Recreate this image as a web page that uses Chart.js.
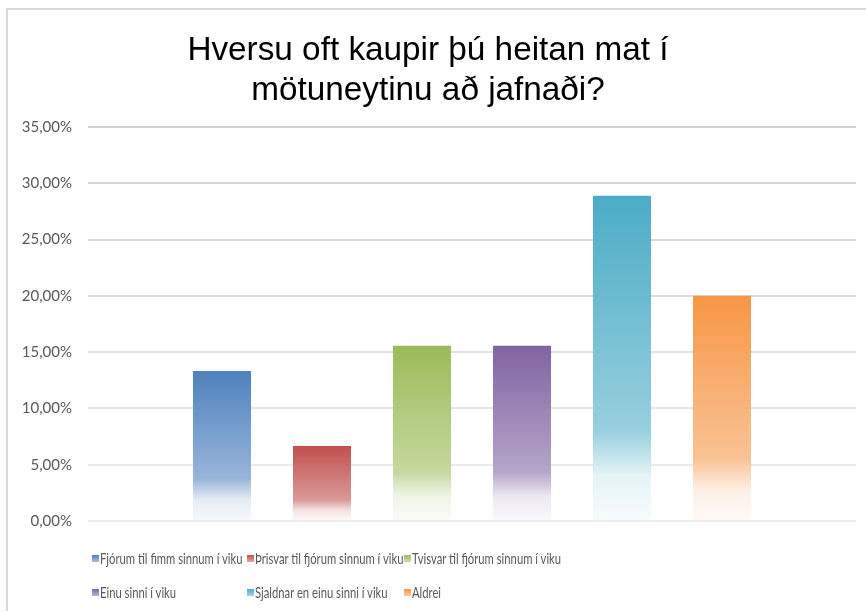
<!DOCTYPE html>
<html>
<head>
<meta charset="utf-8">
<script src="https://cdn.jsdelivr.net/npm/chart.js@4/dist/chart.umd.min.js"></script>
<style>
  body { margin: 0; background: #fff; }
  #wrap { position: relative; width: 866px; height: 611px; overflow: hidden; }
  #frame { position: absolute; left: 6px; top: 8px; right: -10px; bottom: -10px;
           border-top: 2px solid #d9d9d9; border-left: 2px solid #d9d9d9; }
  canvas { position: absolute; left: 0; top: 0; }
  #legend { position: absolute; left: 0; top: 0; width: 866px; height: 611px; pointer-events: none;
            font-family: Lato, "Open Sans", sans-serif; font-size: 15px; color: #595959; }
  .item { position: absolute; white-space: nowrap; line-height: 18px; }
  .box { position: absolute; left: 0; top: 6px; width: 7px; height: 7px; }
  .txt { position: absolute; left: 8px; top: 0; transform: scaleX(0.75); transform-origin: 0 50%; }
</style>
</head>
<body>
<div id="wrap">
  <div id="frame"></div>
  <canvas id="chart" width="866" height="611"></canvas>
  <div id="legend"></div>
</div>
<script>
const titleLines = ['Hversu oft kaupir þú heitan mat í', 'mötuneytinu að jafnaði?'];
const categories = [''];
const seriesNames = [
  'Fjórum til fimm sinnum í viku',
  'Þrisvar til fjórum sinnum í viku',
  'Tvisvar til fjórum sinnum í viku',
  'Einu sinni í viku',
  'Sjaldnar en einu sinni í viku',
  'Aldrei'
];
const seriesValues = [13.33, 6.67, 15.56, 15.56, 28.89, 20.00];
const seriesColors = ['#4F81BD', '#C0504D', '#9BBB59', '#8064A2', '#4BACC6', '#F79646'];
const yMax = 35;
const yStep = 5;

// mix a hex colour with white
const tint = (hex, t) => {
  const n = parseInt(hex.slice(1), 16);
  const r = (n >> 16) & 255, g = (n >> 8) & 255, b = n & 255;
  const m = c => Math.round(c + (255 - c) * t);
  return `rgb(${m(r)}, ${m(g)}, ${m(b)})`;
};

const barFill = (color) => (ctx) => {
  const chart = ctx.chart;
  const { chartArea, scales } = chart;
  if (!chartArea || ctx.raw === undefined) return color;
  const top = scales.y.getPixelForValue(ctx.raw);
  const base = scales.y.getPixelForValue(0);
  const g = chart.ctx.createLinearGradient(0, top, 0, base);
  g.addColorStop(0, color);
  g.addColorStop(0.72, tint(color, 0.42));
  g.addColorStop(0.86, tint(color, 0.85));
  g.addColorStop(1, tint(color, 0.96));
  return g;
};

const datasets = seriesNames.map((name, i) => ({
  label: name,
  data: [seriesValues[i]],
  backgroundColor: barFill(seriesColors[i]),
  borderWidth: 0,
  categoryPercentage: 0.78125,
  barPercentage: 0.58
}));

new Chart(document.getElementById('chart'), {
  type: 'bar',
  data: { labels: categories, datasets },
  options: {
    responsive: false,
    animation: false,
    layout: { padding: { top: 31, right: 10, bottom: 82, left: 0 } },
    plugins: {
      legend: { display: false },
      tooltip: { enabled: false },
      title: {
        display: true,
        text: titleLines,
        color: '#000',
        font: { family: '"Liberation Sans", Arial, sans-serif', size: 33.3, weight: 'normal', lineHeight: 1.2 },
        padding: { top: 0, bottom: 16 }
      }
    },
    scales: {
      x: {
        ticks: { display: false },
        grid: { display: false },
        border: { display: false }
      },
      y: {
        min: 0,
        max: yMax,
        ticks: {
          stepSize: yStep,
          padding: 16,
          color: '#595959',
          font: { family: 'Lato, "Open Sans", sans-serif', size: 15 },
          callback: v => v.toFixed(2).replace('.', ',') + '%'
        },
        grid: {
          drawTicks: false,
          lineWidth: 2,
          color: ctx => {
            const v = ctx.tick ? ctx.tick.value : 0;
            const t = v / yMax;
            const c = Math.round(238 - 28 * t);
            return `rgb(${c}, ${c}, ${c})`;
          }
        },
        border: { display: false },
        afterFit: scale => { scale.width = 88; }
      }
    }
  }
});

// legend laid out in three columns like the original
const legendCols = [92, 247, 404];
const legendRows = [549, 583];
const legend = document.getElementById('legend');
seriesNames.forEach((name, i) => {
  const item = document.createElement('div');
  item.className = 'item';
  item.style.left = legendCols[i % 3] + 'px';
  item.style.top = legendRows[Math.floor(i / 3)] + 'px';
  const box = document.createElement('span');
  box.className = 'box';
  box.style.background = `linear-gradient(${seriesColors[i]}, ${tint(seriesColors[i], 0.5)})`;
  const txt = document.createElement('span');
  txt.className = 'txt';
  txt.textContent = name;
  item.appendChild(box);
  item.appendChild(txt);
  legend.appendChild(item);
});
</script>
</body>
</html>
